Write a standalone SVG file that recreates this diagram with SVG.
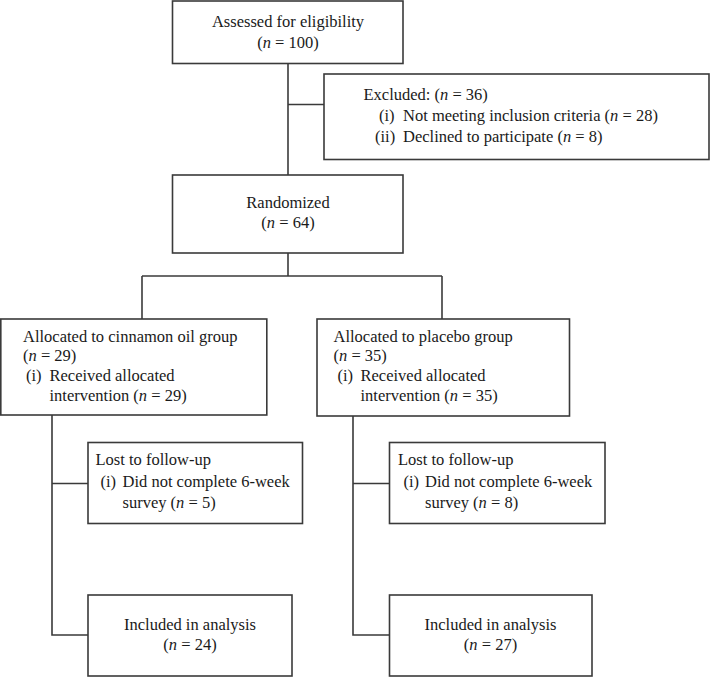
<svg xmlns="http://www.w3.org/2000/svg" width="710" height="677" viewBox="0 0 710 677">
<style>
  .box { fill: #ffffff; stroke: #3a3a3a; stroke-width: 1.6; }
  .ln { fill: none; stroke: #3a3a3a; stroke-width: 1.6; }
  text { font-family: "Liberation Serif", "Times New Roman", serif; font-size: 16.5px; fill: #1a1a1a; }
  .c { text-anchor: middle; }
  .i { font-style: italic; }
</style>
<rect x="0" y="0" width="710" height="677" fill="#ffffff"/>
<g id="connectors">
  <path class="ln" d="M288,64 V175"/>
  <path class="ln" d="M288,104.5 H324"/>
  <path class="ln" d="M288,253 V276"/>
  <path class="ln" d="M142,276 H442"/>
  <path class="ln" d="M142,276 V319"/>
  <path class="ln" d="M442,276 V319"/>
  <path class="ln" d="M52,415 V635 H88"/>
  <path class="ln" d="M52,483.5 H88"/>
  <path class="ln" d="M353,416 V635 H389"/>
  <path class="ln" d="M353,483.5 H389"/>
</g>
<g id="assessed">
  <rect class="box" x="172.5" y="1" width="230.5" height="62.5"/>
  <text class="c" x="288" y="27">Assessed for eligibility</text>
  <text class="c" x="288" y="47.5">(<tspan class="i">n</tspan> = 100)</text>
</g>
<g id="excluded">
  <rect class="box" x="324" y="74" width="385" height="85.5"/>
  <text x="363.5" y="100">Excluded: (<tspan class="i">n</tspan> = 36)</text>
  <text x="379" y="121">(i)</text>
  <text x="403" y="121">Not meeting inclusion criteria (<tspan class="i">n</tspan> = 28)</text>
  <text x="375" y="141.5">(ii)</text>
  <text x="403" y="141.5">Declined to participate (<tspan class="i">n</tspan> = 8)</text>
</g>
<g id="randomized">
  <rect class="box" x="172.5" y="175" width="230.5" height="78"/>
  <text class="c" x="288" y="207.5">Randomized</text>
  <text class="c" x="288" y="228">(<tspan class="i">n</tspan> = 64)</text>
</g>
<g id="cinnamon">
  <rect class="box" x="0.8" y="319" width="266" height="96"/>
  <text x="23" y="341.5">Allocated to cinnamon oil group</text>
  <text x="23" y="361">(<tspan class="i">n</tspan> = 29)</text>
  <text x="26" y="381">(i)</text>
  <text x="49.5" y="381">Received allocated</text>
  <text x="49.5" y="401">intervention (<tspan class="i">n</tspan> = 29)</text>
</g>
<g id="placebo">
  <rect class="box" x="317" y="319" width="252.5" height="97"/>
  <text x="333.5" y="341.5">Allocated to placebo group</text>
  <text x="333.5" y="361">(<tspan class="i">n</tspan> = 35)</text>
  <text x="337.5" y="381">(i)</text>
  <text x="360.5" y="381">Received allocated</text>
  <text x="360.5" y="401">intervention (<tspan class="i">n</tspan> = 35)</text>
</g>
<g id="lost-cinnamon">
  <rect class="box" x="88" y="442.5" width="214.5" height="81"/>
  <text x="95.5" y="464.5">Lost to follow-up</text>
  <text x="100.5" y="487">(i)</text>
  <text x="122.5" y="487">Did not complete 6-week</text>
  <text x="122.5" y="508">survey (<tspan class="i">n</tspan> = 5)</text>
</g>
<g id="lost-placebo">
  <rect class="box" x="389.5" y="442.5" width="215.5" height="81"/>
  <text x="398" y="464.5">Lost to follow-up</text>
  <text x="403.5" y="487">(i)</text>
  <text x="425" y="487">Did not complete 6-week</text>
  <text x="425" y="508">survey (<tspan class="i">n</tspan> = 8)</text>
</g>
<g id="included-cinnamon">
  <rect class="box" x="88" y="595" width="204" height="81"/>
  <text class="c" x="190" y="629.5">Included in analysis</text>
  <text class="c" x="190" y="649.5">(<tspan class="i">n</tspan> = 24)</text>
</g>
<g id="included-placebo">
  <rect class="box" x="389.5" y="595" width="202.5" height="81"/>
  <text class="c" x="490.5" y="629.5">Included in analysis</text>
  <text class="c" x="490.5" y="649.5">(<tspan class="i">n</tspan> = 27)</text>
</g>
</svg>
